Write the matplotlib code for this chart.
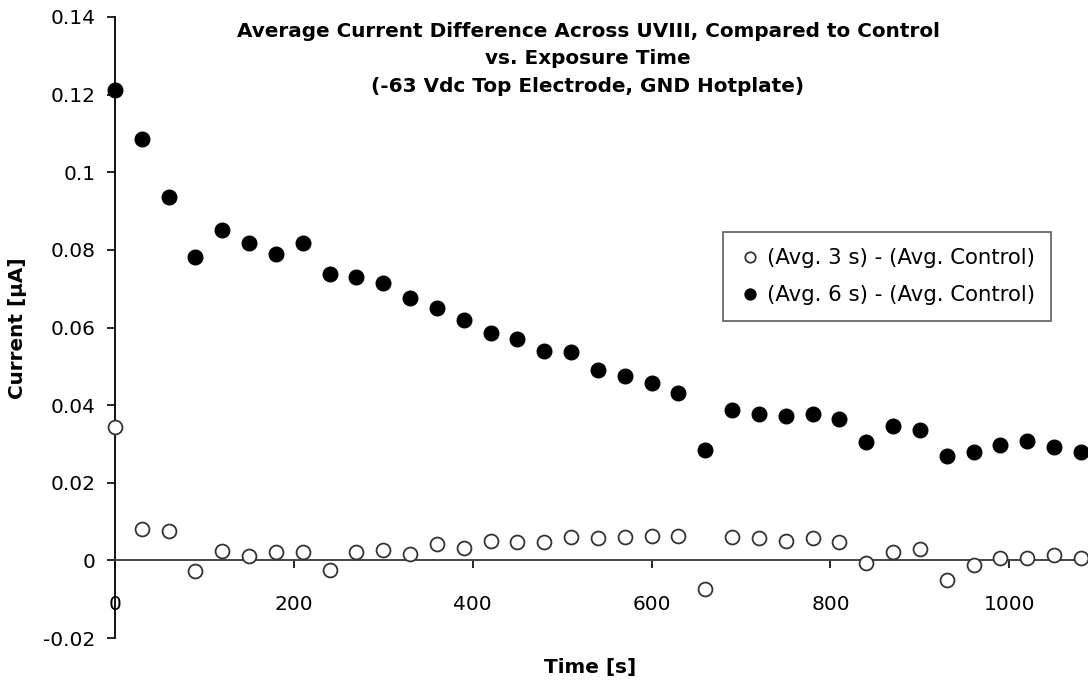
import matplotlib
matplotlib.use("Agg")
import matplotlib.pyplot as plt

plt.rcParams['font.family'] = ['DejaVu Sans']

time_s = [0, 30, 60, 90, 120, 150, 180, 210, 240, 270, 300, 330, 360, 390,
          420, 450, 480, 510, 540, 570, 600, 630, 660, 690, 720, 750, 780,
          810, 840, 870, 900, 930, 960, 990, 1020, 1050, 1080]

diff_3s = [0.0344, 0.0080, 0.0075, -0.0027, 0.0023, 0.0012, 0.0021, 0.0021,
           -0.0026, 0.0021, 0.0027, 0.0016, 0.0041, 0.0033, 0.0051, 0.0047,
           0.0048, 0.0061, 0.0057, 0.0061, 0.0064, 0.0064, -0.0075, 0.0061,
           0.0057, 0.0051, 0.0057, 0.0048, -0.0008, 0.0022, 0.0030, -0.0050,
           -0.0012, 0.0005, 0.0005, 0.0013, 0.0005]

diff_6s = [0.1213, 0.1085, 0.0936, 0.0781, 0.0851, 0.0817, 0.0789, 0.0817,
           0.0738, 0.0730, 0.0715, 0.0676, 0.0650, 0.0619, 0.0586, 0.0571,
           0.0540, 0.0537, 0.0491, 0.0475, 0.0457, 0.0432, 0.0285, 0.0388,
           0.0378, 0.0373, 0.0378, 0.0365, 0.0306, 0.0347, 0.0337, 0.0270,
           0.0278, 0.0298, 0.0308, 0.0293, 0.0278]

x_ticks = [0, 200, 400, 600, 800, 1000]
y_ticks = [-0.02, 0, 0.02, 0.04, 0.06, 0.08, 0.1, 0.12, 0.14]
y_tick_labels = ['-0.02', '0', '0.02', '0.04', '0.06', '0.08', '0.1', '0.12', '0.14']

label_3s = '(Avg. 3 s) - (Avg. Control)'
label_6s = '(Avg. 6 s) - (Avg. Control)'
title = ('Average Current Difference Across UVIII, Compared to Control\n'
         'vs. Exposure Time\n(-63 Vdc Top Electrode, GND Hotplate)')

W, H = 1088, 685
fig = plt.figure(figsize=(W / 100, H / 100), dpi=100)
ax = fig.add_axes([115 / W, 47 / H, (W - 115) / W, (638 - 17) / H])

ax.plot(time_s, diff_3s, linestyle='none', marker='o', markersize=10,
        markerfacecolor='white', markeredgecolor='#333333', markeredgewidth=1.3,
        label=label_3s, clip_on=False, zorder=3)
ax.plot(time_s, diff_6s, linestyle='none', marker='o', markersize=10.5,
        markerfacecolor='black', markeredgecolor='black',
        label=label_6s, clip_on=False, zorder=3)

ax.set_xlim(0, 1088)
ax.set_ylim(-0.02, 0.14)

ax.spines['top'].set_visible(False)
ax.spines['right'].set_visible(False)
ax.spines['bottom'].set_position(('data', 0))
ax.spines['bottom'].set_color('#444444')
ax.spines['bottom'].set_linewidth(1.4)
ax.spines['left'].set_color('black')
ax.spines['left'].set_linewidth(1.3)

ax.set_xticks(x_ticks)
ax.set_xticklabels([str(t) for t in x_ticks])
ax.set_yticks(y_ticks)
ax.set_yticklabels(y_tick_labels)
ax.tick_params(axis='x', direction='out', length=6, width=1.2, pad=19,
               labelsize=14.5, colors='black')
ax.tick_params(axis='y', direction='out', length=6, width=1.2, pad=8,
               labelsize=14.5, colors='black')

fig.text(588 / W, 1 - 22 / H, title, ha='center', va='top', fontsize=14.4,
         fontweight='bold', linespacing=1.55)
fig.text(18 / W, 1 - 328 / H, 'Current [µA]', rotation=90, ha='center',
         va='center', fontsize=14.4, fontweight='bold')
fig.text(590 / W, 1 - 667 / H, 'Time [s]', ha='center', va='center',
         fontsize=14.4, fontweight='bold')

leg = ax.legend(loc='upper left', bbox_to_anchor=(723 / W, 1 - 232 / H),
                bbox_transform=fig.transFigure, borderaxespad=0,
                fontsize=15.3, frameon=True, fancybox=False,
                edgecolor='#333333', borderpad=0.75, labelspacing=0.82,
                handletextpad=0.3, handlelength=1.0, markerscale=0.75)
leg.get_frame().set_linewidth(1.2)

fig.savefig('out.png', dpi=100)
